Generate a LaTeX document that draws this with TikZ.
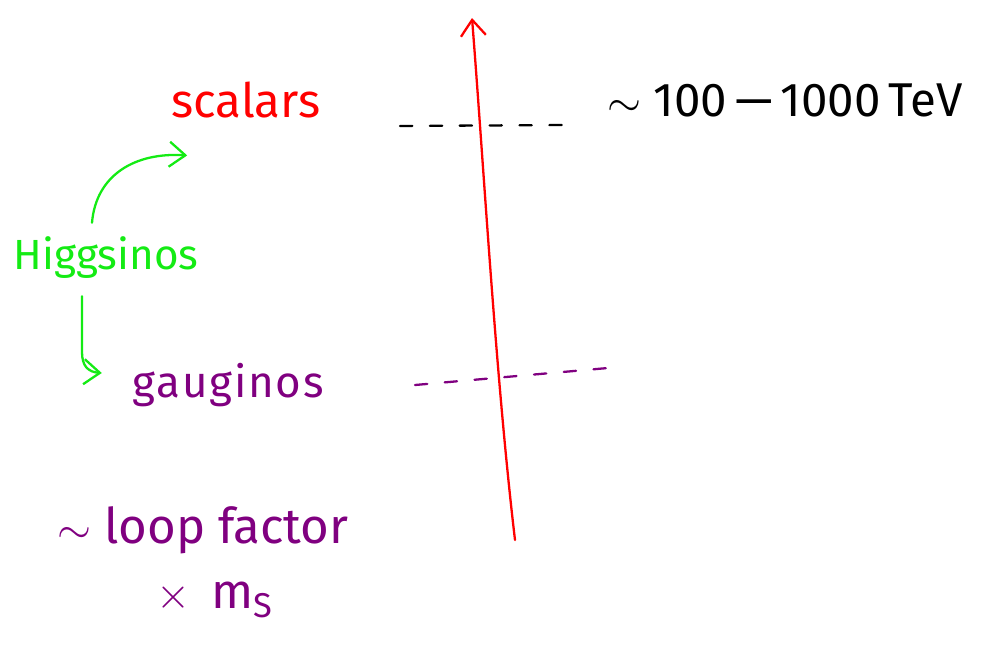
\documentclass[tikz,border=0pt]{standalone}
\usepackage{fontspec}
\setmainfont{Fira Sans}
\usetikzlibrary{arrows.meta,positioning,calc}
\definecolor{pengreen}{RGB}{20,235,20}
\definecolor{penpurple}{RGB}{128,0,128}

\begin{document}
\begin{tikzpicture}[x=0.02cm,y=-0.02cm,line cap=round,
  ink/.style={line width=1.3pt},
  lbl/.style={inner sep=0pt,anchor=center},
  tip/.style={-{Straight Barb[length=3.2mm,width=5mm]}}]
\useasboundingbox (0,0) rectangle (997,646);
% vertical mass axis
\coordinate (axbot) at (515,540);
\coordinate (axtop) at (472,18);
\draw[ink,red,tip] (axbot) .. controls (496,380) and (484,170) .. (axtop);
% labels
\node[lbl,red,font=\fontsize{27}{30}\selectfont] (scalars) at (246,100) {scalars};
\node[lbl,pengreen,font=\fontsize{24}{28}\selectfont] (higgs) at (106,258) {Higgsinos};
\node[lbl,penpurple,font=\fontsize{25}{30}\selectfont] (gaug) at (228,385) {g\kern1pt a\kern1pt u\kern1pt g\kern1pt i\kern1pt n\kern1pt o\kern1pt s};
\node[lbl,font=\fontsize{27}{32}\selectfont] (scale) at (785,100) {$\sim$ 100\,---\,1000\,TeV};
\node[lbl,penpurple,font=\fontsize{28}{30}\selectfont] (loop) at (203,530) {$\sim$ loop factor};
\node[lbl,penpurple,font=\fontsize{28}{30}\selectfont] (ms) at (215,600) {$\times$ \,m\textsubscript{S}};
% mass levels
\coordinate (sl) at (400,126);
\coordinate (sr) at (565,125);
\draw[ink,dashed,dash pattern=on 7pt off 10pt] (sl) -- (sr);
\coordinate (gl) at (415,385);
\coordinate (gr) at (608,368);
\draw[ink,penpurple,dash pattern=on 7pt off 10pt] (gl) -- (gr);
% higgsino mixing
\draw[ink,pengreen,tip] ($(higgs.north)+(-14,-14)$) .. controls (96,175) and (135,152) .. ($(scalars.south west)+(16,37)$);
\draw[ink,pengreen,tip] ($(higgs.south)+(-24,17)$) -- (82,352) .. controls (82,366) and (88,372) .. ($(gaug.west)+(-30,-12)$);
\end{tikzpicture}
\end{document}
